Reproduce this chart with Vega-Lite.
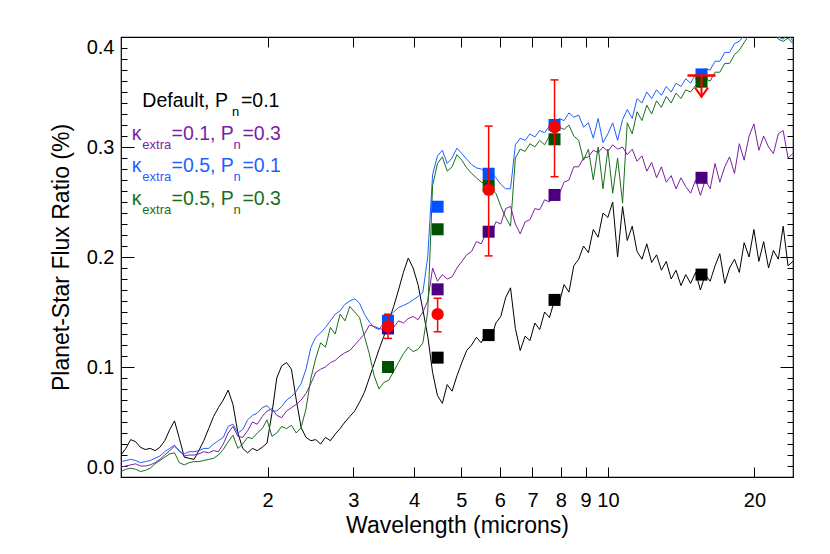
{
"$schema": "https://vega.github.io/schema/vega-lite/v6.json",
"width": 672,
"height": 440,
"autosize": {"type": "none"},
"padding": {"left": 121, "top": 37, "right": 37, "bottom": 77},
"background": "white",
"config": {
  "view": {"stroke": "black", "strokeWidth": 1.2},
  "font": "Liberation Sans",
  "axis": {"domain": false, "grid": false, "tickColor": "black", "tickWidth": 1, "labelColor": "black", "titleColor": "black", "labelFont": "Liberation Sans", "titleFont": "Liberation Sans", "labelFontSize": 20, "titleFontSize": 23, "titleFontWeight": "normal"}
},
"resolve": {"axis": {"x": "independent", "y": "independent"}, "scale": {"color": "independent"}},
"datasets": {
"black": [
{"wl":1.000,"flux":0.020},{"wl":1.023,"flux":0.026},{"wl":1.047,"flux":0.034},{"wl":1.072,"flux":0.032},{"wl":1.096,"flux":0.027},{"wl":1.122,"flux":0.025},{"wl":1.148,"flux":0.026},{"wl":1.175,"flux":0.024},{"wl":1.202,"flux":0.027},{"wl":1.230,"flux":0.033},
{"wl":1.259,"flux":0.043},{"wl":1.288,"flux":0.051},{"wl":1.318,"flux":0.035},{"wl":1.349,"flux":0.018},{"wl":1.380,"flux":0.017},{"wl":1.413,"flux":0.016},{"wl":1.445,"flux":0.024},{"wl":1.479,"flux":0.033},{"wl":1.514,"flux":0.044},{"wl":1.549,"flux":0.055},
{"wl":1.585,"flux":0.063},{"wl":1.622,"flux":0.070},{"wl":1.660,"flux":0.079},{"wl":1.698,"flux":0.066},{"wl":1.738,"flux":0.040},{"wl":1.778,"flux":0.026},{"wl":1.820,"flux":0.022},{"wl":1.862,"flux":0.026},{"wl":1.905,"flux":0.024},{"wl":1.950,"flux":0.027},
{"wl":1.995,"flux":0.031},{"wl":2.042,"flux":0.058},{"wl":2.089,"flux":0.090},{"wl":2.138,"flux":0.101},{"wl":2.188,"flux":0.104},{"wl":2.239,"flux":0.098},{"wl":2.291,"flux":0.070},{"wl":2.344,"flux":0.045},{"wl":2.399,"flux":0.036},{"wl":2.455,"flux":0.033},
{"wl":2.512,"flux":0.034},{"wl":2.570,"flux":0.030},{"wl":2.630,"flux":0.036},{"wl":2.692,"flux":0.033},{"wl":2.754,"flux":0.039},{"wl":2.818,"flux":0.044},{"wl":2.884,"flux":0.050},{"wl":2.951,"flux":0.055},{"wl":3.020,"flux":0.060},{"wl":3.090,"flux":0.068},
{"wl":3.162,"flux":0.077},{"wl":3.236,"flux":0.090},{"wl":3.311,"flux":0.103},{"wl":3.388,"flux":0.116},{"wl":3.467,"flux":0.128},{"wl":3.548,"flux":0.142},{"wl":3.631,"flux":0.155},{"wl":3.715,"flux":0.170},{"wl":3.802,"flux":0.186},{"wl":3.890,"flux":0.199},
{"wl":3.981,"flux":0.190},{"wl":4.074,"flux":0.175},{"wl":4.169,"flux":0.152},{"wl":4.266,"flux":0.128},{"wl":4.365,"flux":0.095},{"wl":4.467,"flux":0.074},{"wl":4.571,"flux":0.067},{"wl":4.677,"flux":0.084},{"wl":4.786,"flux":0.078},{"wl":4.898,"flux":0.092},
{"wl":5.012,"flux":0.104},{"wl":5.129,"flux":0.115},{"wl":5.248,"flux":0.120},{"wl":5.370,"flux":0.127},{"wl":5.495,"flux":0.122},{"wl":5.623,"flux":0.131},{"wl":5.754,"flux":0.126},{"wl":5.888,"flux":0.140},{"wl":6.026,"flux":0.146},{"wl":6.166,"flux":0.163},
{"wl":6.310,"flux":0.172},{"wl":6.457,"flux":0.135},{"wl":6.607,"flux":0.115},{"wl":6.761,"flux":0.128},{"wl":6.918,"flux":0.124},{"wl":7.079,"flux":0.140},{"wl":7.244,"flux":0.134},{"wl":7.413,"flux":0.150},{"wl":7.586,"flux":0.145},{"wl":7.762,"flux":0.160},
{"wl":7.943,"flux":0.158},{"wl":8.128,"flux":0.175},{"wl":8.318,"flux":0.168},{"wl":8.511,"flux":0.192},{"wl":8.710,"flux":0.198},{"wl":8.913,"flux":0.210},{"wl":9.120,"flux":0.204},{"wl":9.333,"flux":0.225},{"wl":9.550,"flux":0.218},{"wl":9.772,"flux":0.240},
{"wl":10.00,"flux":0.236},{"wl":10.23,"flux":0.250},{"wl":10.47,"flux":0.200},{"wl":10.72,"flux":0.246},{"wl":10.96,"flux":0.215},{"wl":11.22,"flux":0.228},{"wl":11.48,"flux":0.205},{"wl":11.75,"flux":0.198},{"wl":12.02,"flux":0.212},{"wl":12.30,"flux":0.195},
{"wl":12.59,"flux":0.202},{"wl":12.88,"flux":0.188},{"wl":13.18,"flux":0.196},{"wl":13.49,"flux":0.180},{"wl":13.80,"flux":0.188},{"wl":14.13,"flux":0.174},{"wl":14.45,"flux":0.184},{"wl":14.79,"flux":0.176},{"wl":15.14,"flux":0.186},{"wl":15.49,"flux":0.170},
{"wl":15.85,"flux":0.184},{"wl":16.22,"flux":0.178},{"wl":16.60,"flux":0.192},{"wl":16.98,"flux":0.203},{"wl":17.38,"flux":0.176},{"wl":17.78,"flux":0.190},{"wl":18.20,"flux":0.198},{"wl":18.62,"flux":0.186},{"wl":19.05,"flux":0.213},{"wl":19.50,"flux":0.200},
{"wl":19.95,"flux":0.225},{"wl":20.42,"flux":0.196},{"wl":20.89,"flux":0.214},{"wl":21.38,"flux":0.190},{"wl":21.88,"flux":0.206},{"wl":22.39,"flux":0.198},{"wl":22.91,"flux":0.228},{"wl":23.44,"flux":0.192},{"wl":23.99,"flux":0.196}
],
"purple": [
{"wl":1.000,"flux":0.009},{"wl":1.023,"flux":0.010},{"wl":1.047,"flux":0.011},{"wl":1.072,"flux":0.012},{"wl":1.096,"flux":0.010},{"wl":1.122,"flux":0.010},{"wl":1.148,"flux":0.011},{"wl":1.175,"flux":0.013},{"wl":1.202,"flux":0.016},{"wl":1.230,"flux":0.020},
{"wl":1.259,"flux":0.024},{"wl":1.288,"flux":0.028},{"wl":1.318,"flux":0.024},{"wl":1.349,"flux":0.019},{"wl":1.380,"flux":0.020},{"wl":1.413,"flux":0.020},{"wl":1.445,"flux":0.021},{"wl":1.479,"flux":0.023},{"wl":1.514,"flux":0.022},{"wl":1.549,"flux":0.024},
{"wl":1.585,"flux":0.023},{"wl":1.622,"flux":0.030},{"wl":1.660,"flux":0.040},{"wl":1.698,"flux":0.046},{"wl":1.738,"flux":0.037},{"wl":1.778,"flux":0.036},{"wl":1.820,"flux":0.042},{"wl":1.862,"flux":0.050},{"wl":1.905,"flux":0.048},{"wl":1.950,"flux":0.055},
{"wl":1.995,"flux":0.060},{"wl":2.042,"flux":0.062},{"wl":2.089,"flux":0.056},{"wl":2.138,"flux":0.054},{"wl":2.188,"flux":0.060},{"wl":2.239,"flux":0.063},{"wl":2.291,"flux":0.066},{"wl":2.344,"flux":0.070},{"wl":2.399,"flux":0.076},{"wl":2.455,"flux":0.085},
{"wl":2.512,"flux":0.095},{"wl":2.570,"flux":0.098},{"wl":2.630,"flux":0.100},{"wl":2.692,"flux":0.104},{"wl":2.754,"flux":0.106},{"wl":2.818,"flux":0.110},{"wl":2.884,"flux":0.113},{"wl":2.951,"flux":0.115},{"wl":3.020,"flux":0.120},{"wl":3.090,"flux":0.125},
{"wl":3.162,"flux":0.130},{"wl":3.236,"flux":0.138},{"wl":3.311,"flux":0.137},{"wl":3.388,"flux":0.135},{"wl":3.467,"flux":0.134},{"wl":3.548,"flux":0.138},{"wl":3.631,"flux":0.136},{"wl":3.715,"flux":0.142},{"wl":3.802,"flux":0.140},{"wl":3.890,"flux":0.144},
{"wl":3.981,"flux":0.146},{"wl":4.074,"flux":0.143},{"wl":4.169,"flux":0.150},{"wl":4.266,"flux":0.160},{"wl":4.365,"flux":0.190},{"wl":4.467,"flux":0.178},{"wl":4.571,"flux":0.184},{"wl":4.677,"flux":0.180},{"wl":4.786,"flux":0.182},{"wl":4.898,"flux":0.190},
{"wl":5.012,"flux":0.196},{"wl":5.129,"flux":0.202},{"wl":5.248,"flux":0.205},{"wl":5.370,"flux":0.214},{"wl":5.495,"flux":0.212},{"wl":5.623,"flux":0.222},{"wl":5.754,"flux":0.220},{"wl":5.888,"flux":0.232},{"wl":6.026,"flux":0.230},{"wl":6.166,"flux":0.244},
{"wl":6.310,"flux":0.246},{"wl":6.457,"flux":0.230},{"wl":6.607,"flux":0.221},{"wl":6.761,"flux":0.232},{"wl":6.918,"flux":0.234},{"wl":7.079,"flux":0.244},{"wl":7.244,"flux":0.243},{"wl":7.413,"flux":0.252},{"wl":7.586,"flux":0.250},{"wl":7.762,"flux":0.258},
{"wl":7.943,"flux":0.257},{"wl":8.128,"flux":0.268},{"wl":8.318,"flux":0.270},{"wl":8.511,"flux":0.282},{"wl":8.710,"flux":0.282},{"wl":8.913,"flux":0.290},{"wl":9.120,"flux":0.291},{"wl":9.333,"flux":0.297},{"wl":9.550,"flux":0.295},{"wl":9.772,"flux":0.300},
{"wl":10.00,"flux":0.296},{"wl":10.23,"flux":0.302},{"wl":10.47,"flux":0.298},{"wl":10.72,"flux":0.300},{"wl":10.96,"flux":0.293},{"wl":11.22,"flux":0.298},{"wl":11.48,"flux":0.287},{"wl":11.75,"flux":0.292},{"wl":12.02,"flux":0.278},{"wl":12.30,"flux":0.286},
{"wl":12.59,"flux":0.272},{"wl":12.88,"flux":0.282},{"wl":13.18,"flux":0.268},{"wl":13.49,"flux":0.274},{"wl":13.80,"flux":0.262},{"wl":14.13,"flux":0.272},{"wl":14.45,"flux":0.264},{"wl":14.79,"flux":0.258},{"wl":15.14,"flux":0.270},{"wl":15.49,"flux":0.256},
{"wl":15.85,"flux":0.270},{"wl":16.22,"flux":0.262},{"wl":16.60,"flux":0.285},{"wl":16.98,"flux":0.268},{"wl":17.38,"flux":0.282},{"wl":17.78,"flux":0.291},{"wl":18.20,"flux":0.276},{"wl":18.62,"flux":0.303},{"wl":19.05,"flux":0.288},{"wl":19.50,"flux":0.310},
{"wl":19.95,"flux":0.321},{"wl":20.42,"flux":0.297},{"wl":20.89,"flux":0.310},{"wl":21.38,"flux":0.300},{"wl":21.88,"flux":0.294},{"wl":22.39,"flux":0.312},{"wl":22.91,"flux":0.315},{"wl":23.44,"flux":0.290},{"wl":23.99,"flux":0.294}
],
"blue": [
{"wl":1.000,"flux":0.014},{"wl":1.023,"flux":0.015},{"wl":1.047,"flux":0.016},{"wl":1.072,"flux":0.015},{"wl":1.096,"flux":0.013},{"wl":1.122,"flux":0.014},{"wl":1.148,"flux":0.015},{"wl":1.175,"flux":0.017},{"wl":1.202,"flux":0.019},{"wl":1.230,"flux":0.023},
{"wl":1.259,"flux":0.026},{"wl":1.288,"flux":0.029},{"wl":1.318,"flux":0.023},{"wl":1.349,"flux":0.021},{"wl":1.380,"flux":0.023},{"wl":1.413,"flux":0.023},{"wl":1.445,"flux":0.024},{"wl":1.479,"flux":0.026},{"wl":1.514,"flux":0.026},{"wl":1.549,"flux":0.030},
{"wl":1.585,"flux":0.033},{"wl":1.622,"flux":0.036},{"wl":1.660,"flux":0.046},{"wl":1.698,"flux":0.048},{"wl":1.738,"flux":0.040},{"wl":1.778,"flux":0.043},{"wl":1.820,"flux":0.052},{"wl":1.862,"flux":0.056},{"wl":1.905,"flux":0.058},{"wl":1.950,"flux":0.063},
{"wl":1.995,"flux":0.065},{"wl":2.042,"flux":0.060},{"wl":2.089,"flux":0.060},{"wl":2.138,"flux":0.064},{"wl":2.188,"flux":0.070},{"wl":2.239,"flux":0.073},{"wl":2.291,"flux":0.078},{"wl":2.344,"flux":0.085},{"wl":2.399,"flux":0.098},{"wl":2.455,"flux":0.118},
{"wl":2.512,"flux":0.127},{"wl":2.570,"flux":0.131},{"wl":2.630,"flux":0.136},{"wl":2.692,"flux":0.142},{"wl":2.754,"flux":0.148},{"wl":2.818,"flux":0.151},{"wl":2.884,"flux":0.157},{"wl":2.951,"flux":0.160},{"wl":3.020,"flux":0.162},{"wl":3.090,"flux":0.158},
{"wl":3.162,"flux":0.148},{"wl":3.236,"flux":0.141},{"wl":3.311,"flux":0.136},{"wl":3.388,"flux":0.134},{"wl":3.467,"flux":0.140},{"wl":3.548,"flux":0.146},{"wl":3.631,"flux":0.150},{"wl":3.715,"flux":0.154},{"wl":3.802,"flux":0.156},{"wl":3.890,"flux":0.158},
{"wl":3.981,"flux":0.161},{"wl":4.074,"flux":0.164},{"wl":4.169,"flux":0.168},{"wl":4.266,"flux":0.200},{"wl":4.365,"flux":0.275},{"wl":4.467,"flux":0.292},{"wl":4.571,"flux":0.297},{"wl":4.677,"flux":0.285},{"wl":4.786,"flux":0.290},{"wl":4.898,"flux":0.299},
{"wl":5.012,"flux":0.294},{"wl":5.129,"flux":0.289},{"wl":5.248,"flux":0.284},{"wl":5.370,"flux":0.281},{"wl":5.495,"flux":0.280},{"wl":5.623,"flux":0.277},{"wl":5.754,"flux":0.278},{"wl":5.888,"flux":0.272},{"wl":6.026,"flux":0.266},{"wl":6.166,"flux":0.262},
{"wl":6.310,"flux":0.262},{"wl":6.457,"flux":0.302},{"wl":6.607,"flux":0.308},{"wl":6.761,"flux":0.306},{"wl":6.918,"flux":0.312},{"wl":7.079,"flux":0.309},{"wl":7.244,"flux":0.315},{"wl":7.413,"flux":0.313},{"wl":7.586,"flux":0.319},{"wl":7.762,"flux":0.318},
{"wl":7.943,"flux":0.326},{"wl":8.128,"flux":0.324},{"wl":8.318,"flux":0.331},{"wl":8.511,"flux":0.327},{"wl":8.710,"flux":0.329},{"wl":8.913,"flux":0.318},{"wl":9.120,"flux":0.322},{"wl":9.333,"flux":0.308},{"wl":9.550,"flux":0.326},{"wl":9.772,"flux":0.304},
{"wl":10.00,"flux":0.312},{"wl":10.23,"flux":0.322},{"wl":10.47,"flux":0.306},{"wl":10.72,"flux":0.325},{"wl":10.96,"flux":0.334},{"wl":11.22,"flux":0.326},{"wl":11.48,"flux":0.344},{"wl":11.75,"flux":0.340},{"wl":12.02,"flux":0.350},{"wl":12.30,"flux":0.344},
{"wl":12.59,"flux":0.352},{"wl":12.88,"flux":0.347},{"wl":13.18,"flux":0.355},{"wl":13.49,"flux":0.350},{"wl":13.80,"flux":0.358},{"wl":14.13,"flux":0.355},{"wl":14.45,"flux":0.362},{"wl":14.79,"flux":0.358},{"wl":15.14,"flux":0.366},{"wl":15.49,"flux":0.364},
{"wl":15.85,"flux":0.371},{"wl":16.22,"flux":0.370},{"wl":16.60,"flux":0.378},{"wl":16.98,"flux":0.378},{"wl":17.38,"flux":0.386},{"wl":17.78,"flux":0.386},{"wl":18.20,"flux":0.394},{"wl":18.62,"flux":0.396},{"wl":19.05,"flux":0.402},{"wl":19.50,"flux":0.406},
{"wl":19.95,"flux":0.410},{"wl":20.42,"flux":0.412},{"wl":20.89,"flux":0.414},{"wl":21.38,"flux":0.410},{"wl":21.88,"flux":0.408},{"wl":22.39,"flux":0.400},{"wl":22.91,"flux":0.398},{"wl":23.44,"flux":0.403},{"wl":23.99,"flux":0.396}
],
"green": [
{"wl":1.000,"flux":0.005},{"wl":1.023,"flux":0.007},{"wl":1.047,"flux":0.008},{"wl":1.072,"flux":0.007},{"wl":1.096,"flux":0.005},{"wl":1.122,"flux":0.006},{"wl":1.148,"flux":0.008},{"wl":1.175,"flux":0.012},{"wl":1.202,"flux":0.015},{"wl":1.230,"flux":0.018},
{"wl":1.259,"flux":0.021},{"wl":1.288,"flux":0.022},{"wl":1.318,"flux":0.013},{"wl":1.349,"flux":0.011},{"wl":1.380,"flux":0.013},{"wl":1.413,"flux":0.014},{"wl":1.445,"flux":0.014},{"wl":1.479,"flux":0.015},{"wl":1.514,"flux":0.016},{"wl":1.549,"flux":0.017},
{"wl":1.585,"flux":0.020},{"wl":1.622,"flux":0.025},{"wl":1.660,"flux":0.032},{"wl":1.698,"flux":0.038},{"wl":1.738,"flux":0.026},{"wl":1.778,"flux":0.030},{"wl":1.820,"flux":0.036},{"wl":1.862,"flux":0.035},{"wl":1.905,"flux":0.040},{"wl":1.950,"flux":0.044},
{"wl":1.995,"flux":0.052},{"wl":2.042,"flux":0.037},{"wl":2.089,"flux":0.040},{"wl":2.138,"flux":0.046},{"wl":2.188,"flux":0.044},{"wl":2.239,"flux":0.047},{"wl":2.291,"flux":0.040},{"wl":2.344,"flux":0.045},{"wl":2.399,"flux":0.062},{"wl":2.455,"flux":0.090},
{"wl":2.512,"flux":0.108},{"wl":2.570,"flux":0.122},{"wl":2.630,"flux":0.118},{"wl":2.692,"flux":0.136},{"wl":2.754,"flux":0.130},{"wl":2.818,"flux":0.148},{"wl":2.884,"flux":0.142},{"wl":2.951,"flux":0.155},{"wl":3.020,"flux":0.150},{"wl":3.090,"flux":0.145},
{"wl":3.162,"flux":0.128},{"wl":3.236,"flux":0.112},{"wl":3.311,"flux":0.092},{"wl":3.388,"flux":0.080},{"wl":3.467,"flux":0.086},{"wl":3.548,"flux":0.088},{"wl":3.631,"flux":0.096},{"wl":3.715,"flux":0.104},{"wl":3.802,"flux":0.112},{"wl":3.890,"flux":0.118},
{"wl":3.981,"flux":0.114},{"wl":4.074,"flux":0.116},{"wl":4.169,"flux":0.122},{"wl":4.266,"flux":0.150},{"wl":4.365,"flux":0.265},{"wl":4.467,"flux":0.285},{"wl":4.571,"flux":0.291},{"wl":4.677,"flux":0.278},{"wl":4.786,"flux":0.282},{"wl":4.898,"flux":0.293},
{"wl":5.012,"flux":0.288},{"wl":5.129,"flux":0.281},{"wl":5.248,"flux":0.276},{"wl":5.370,"flux":0.272},{"wl":5.495,"flux":0.268},{"wl":5.623,"flux":0.266},{"wl":5.754,"flux":0.262},{"wl":5.888,"flux":0.258},{"wl":6.026,"flux":0.246},{"wl":6.166,"flux":0.236},
{"wl":6.310,"flux":0.228},{"wl":6.457,"flux":0.290},{"wl":6.607,"flux":0.298},{"wl":6.761,"flux":0.296},{"wl":6.918,"flux":0.303},{"wl":7.079,"flux":0.300},{"wl":7.244,"flux":0.306},{"wl":7.413,"flux":0.302},{"wl":7.586,"flux":0.310},{"wl":7.762,"flux":0.308},
{"wl":7.943,"flux":0.318},{"wl":8.128,"flux":0.316},{"wl":8.318,"flux":0.320},{"wl":8.511,"flux":0.310},{"wl":8.710,"flux":0.306},{"wl":8.913,"flux":0.288},{"wl":9.120,"flux":0.298},{"wl":9.333,"flux":0.270},{"wl":9.550,"flux":0.300},{"wl":9.772,"flux":0.262},
{"wl":10.00,"flux":0.298},{"wl":10.23,"flux":0.258},{"wl":10.47,"flux":0.290},{"wl":10.72,"flux":0.249},{"wl":10.96,"flux":0.322},{"wl":11.22,"flux":0.312},{"wl":11.48,"flux":0.332},{"wl":11.75,"flux":0.324},{"wl":12.02,"flux":0.338},{"wl":12.30,"flux":0.330},
{"wl":12.59,"flux":0.342},{"wl":12.88,"flux":0.336},{"wl":13.18,"flux":0.346},{"wl":13.49,"flux":0.340},{"wl":13.80,"flux":0.349},{"wl":14.13,"flux":0.344},{"wl":14.45,"flux":0.352},{"wl":14.79,"flux":0.350},{"wl":15.14,"flux":0.356},{"wl":15.49,"flux":0.354},
{"wl":15.85,"flux":0.362},{"wl":16.22,"flux":0.360},{"wl":16.60,"flux":0.368},{"wl":16.98,"flux":0.368},{"wl":17.38,"flux":0.376},{"wl":17.78,"flux":0.376},{"wl":18.20,"flux":0.384},{"wl":18.62,"flux":0.388},{"wl":19.05,"flux":0.395},{"wl":19.50,"flux":0.402},
{"wl":19.95,"flux":0.407},{"wl":20.42,"flux":0.410},{"wl":20.89,"flux":0.412},{"wl":21.38,"flux":0.408},{"wl":21.88,"flux":0.405},{"wl":22.39,"flux":0.398},{"wl":22.91,"flux":0.396},{"wl":23.44,"flux":0.399},{"wl":23.99,"flux":0.394}
],
"bands": [
{"model":"Default, Pn=0.1","wl":4.47,"flux":0.1085},
{"model":"Default, Pn=0.1","wl":5.69,"flux":0.129},
{"model":"Default, Pn=0.1","wl":7.77,"flux":0.161},
{"model":"Default, Pn=0.1","wl":15.57,"flux":0.184},
{"model":"κextra=0.1, Pn=0.3","wl":3.535,"flux":0.135},
{"model":"κextra=0.1, Pn=0.3","wl":4.47,"flux":0.1706},
{"model":"κextra=0.1, Pn=0.3","wl":5.69,"flux":0.223},
{"model":"κextra=0.1, Pn=0.3","wl":7.77,"flux":0.2564},
{"model":"κextra=0.1, Pn=0.3","wl":15.57,"flux":0.272},
{"model":"κextra=0.5, Pn=0.1","wl":3.535,"flux":0.142},
{"model":"κextra=0.5, Pn=0.1","wl":4.47,"flux":0.2457},
{"model":"κextra=0.5, Pn=0.1","wl":5.69,"flux":0.2757},
{"model":"κextra=0.5, Pn=0.1","wl":7.77,"flux":0.320},
{"model":"κextra=0.5, Pn=0.1","wl":15.57,"flux":0.366},
{"model":"κextra=0.5, Pn=0.3","wl":3.535,"flux":0.100},
{"model":"κextra=0.5, Pn=0.3","wl":4.47,"flux":0.2252},
{"model":"κextra=0.5, Pn=0.3","wl":5.69,"flux":0.265},
{"model":"κextra=0.5, Pn=0.3","wl":7.77,"flux":0.307},
{"model":"κextra=0.5, Pn=0.3","wl":15.57,"flux":0.3594}
],
"obs": [
{"wl":3.535,"flux":0.137,"lo":0.126,"hi":0.148},
{"wl":4.47,"flux":0.148,"lo":0.132,"hi":0.1625},
{"wl":5.69,"flux":0.261,"lo":0.201,"hi":0.319},
{"wl":7.77,"flux":0.318,"lo":0.273,"hi":0.361}
],
"limit": [
{"wl":15.57,"flux":0.365,"tip":0.3457}
],
"labels": [
{"model":"Default, Pn=0.1","kind":"main","t":"Default, P","wl":1.106,"flux":0.3361},
{"model":"Default, Pn=0.1","kind":"sub","t":"n","wl":1.690,"flux":0.3279},
{"model":"Default, Pn=0.1","kind":"main","t":"=0.1","wl":1.763,"flux":0.3361},
{"model":"κextra=0.1, Pn=0.3","kind":"main","t":"κ","wl":1.052,"flux":0.3064},
{"model":"κextra=0.1, Pn=0.3","kind":"sub","t":"extra","wl":1.106,"flux":0.2982},
{"model":"κextra=0.1, Pn=0.3","kind":"main","t":"=0.1, P","wl":1.270,"flux":0.3064},
{"model":"κextra=0.1, Pn=0.3","kind":"sub","t":"n","wl":1.702,"flux":0.2982},
{"model":"κextra=0.1, Pn=0.3","kind":"main","t":"=0.3","wl":1.776,"flux":0.3064},
{"model":"κextra=0.5, Pn=0.1","kind":"main","t":"κ","wl":1.052,"flux":0.2770},
{"model":"κextra=0.5, Pn=0.1","kind":"sub","t":"extra","wl":1.106,"flux":0.2688},
{"model":"κextra=0.5, Pn=0.1","kind":"main","t":"=0.5, P","wl":1.270,"flux":0.2770},
{"model":"κextra=0.5, Pn=0.1","kind":"sub","t":"n","wl":1.702,"flux":0.2688},
{"model":"κextra=0.5, Pn=0.1","kind":"main","t":"=0.1","wl":1.776,"flux":0.2770},
{"model":"κextra=0.5, Pn=0.3","kind":"main","t":"κ","wl":1.052,"flux":0.2473},
{"model":"κextra=0.5, Pn=0.3","kind":"sub","t":"extra","wl":1.106,"flux":0.2391},
{"model":"κextra=0.5, Pn=0.3","kind":"main","t":"=0.5, P","wl":1.270,"flux":0.2473},
{"model":"κextra=0.5, Pn=0.3","kind":"sub","t":"n","wl":1.702,"flux":0.2391},
{"model":"κextra=0.5, Pn=0.3","kind":"main","t":"=0.3","wl":1.776,"flux":0.2473}
]
},
"layer": [
{
  "data": {"name": "black"},
  "mark": {"type": "line", "color": "#000000", "strokeWidth": 1, "clip": true},
  "encoding": {
    "x": {"field": "wl", "type": "quantitative", "scale": {"type": "log", "domain": [1, 24], "nice": false},
      "axis": {"orient": "bottom", "values": [2,3,4,5,6,7,8,9,10,20], "format": "d", "tickSize": -10, "labelPadding": 23, "labelOverlap": false, "labelBound": false, "labelFlush": false, "title": "Wavelength (microns)", "titleY": 55, "titleBaseline": "alphabetic"}},
    "y": {"field": "flux", "type": "quantitative", "scale": {"domain": [0, 0.4], "nice": false, "zero": false},
      "axis": {"orient": "left", "values": [0, 0.1, 0.2, 0.3, 0.4], "format": ".1f", "tickSize": -13, "labelPadding": 20, "labelFlush": true, "title": "Planet-Star Flux Ratio (%)", "titleX": -53, "titleBaseline": "alphabetic"}}
  }
},
{
  "data": {"name": "purple"},
  "mark": {"type": "line", "color": "#7b1fa2", "strokeWidth": 1, "clip": true},
  "encoding": {
    "x": {"field": "wl", "type": "quantitative", "scale": {"type": "log", "domain": [1, 24], "nice": false},
      "axis": {"orient": "top", "values": [2,3,4,5,6,7,8,9,10,20], "tickSize": -10, "labels": false, "title": null}},
    "y": {"field": "flux", "type": "quantitative", "scale": {"domain": [0, 0.4], "nice": false, "zero": false},
      "axis": {"orient": "right", "values": [0, 0.1, 0.2, 0.3, 0.4], "tickSize": -13, "labels": false, "title": null}}
  }
},
{
  "data": {"name": "blue"},
  "mark": {"type": "line", "color": "#1f5fff", "strokeWidth": 1, "clip": true},
  "encoding": {
    "x": {"field": "wl", "type": "quantitative", "scale": {"type": "log", "domain": [1, 24], "nice": false}, "axis": null},
    "y": {"field": "flux", "type": "quantitative", "scale": {"domain": [0, 0.4], "nice": false, "zero": false},
      "axis": {"orient": "left", "values": [0.01,0.02,0.03,0.04,0.05,0.06,0.07,0.08,0.09,0.11,0.12,0.13,0.14,0.15,0.16,0.17,0.18,0.19,0.21,0.22,0.23,0.24,0.25,0.26,0.27,0.28,0.29,0.31,0.32,0.33,0.34,0.35,0.36,0.37,0.38,0.39], "tickSize": -6, "labels": false, "title": null}}
  }
},
{
  "data": {"name": "green"},
  "mark": {"type": "line", "color": "#1a6e1a", "strokeWidth": 1, "clip": true},
  "encoding": {
    "x": {"field": "wl", "type": "quantitative", "scale": {"type": "log", "domain": [1, 24], "nice": false}, "axis": null},
    "y": {"field": "flux", "type": "quantitative", "scale": {"domain": [0, 0.4], "nice": false, "zero": false},
      "axis": {"orient": "right", "values": [0.01,0.02,0.03,0.04,0.05,0.06,0.07,0.08,0.09,0.11,0.12,0.13,0.14,0.15,0.16,0.17,0.18,0.19,0.21,0.22,0.23,0.24,0.25,0.26,0.27,0.28,0.29,0.31,0.32,0.33,0.34,0.35,0.36,0.37,0.38,0.39], "tickSize": -6, "labels": false, "title": null}}
  }
},
{
  "data": {"name": "bands"},
  "mark": {"type": "point", "shape": "square", "filled": true, "size": 144, "opacity": 1, "strokeWidth": 0},
  "encoding": {
    "x": {"field": "wl", "type": "quantitative", "scale": {"type": "log", "domain": [1, 24], "nice": false}, "axis": null},
    "y": {"field": "flux", "type": "quantitative", "scale": {"domain": [0, 0.4], "nice": false, "zero": false}, "axis": null},
    "color": {"field": "model", "type": "nominal", "legend": null,
      "scale": {"domain": ["Default, Pn=0.1", "κextra=0.1, Pn=0.3", "κextra=0.5, Pn=0.1", "κextra=0.5, Pn=0.3"], "range": ["#000000", "#4b0082", "#0050ff", "#005000"]}}
  }
},
{
  "data": {"name": "obs"},
  "mark": {"type": "rule", "color": "#ff0000", "strokeWidth": 1.5},
  "encoding": {
    "x": {"field": "wl", "type": "quantitative", "scale": {"type": "log", "domain": [1, 24], "nice": false}, "axis": null},
    "y": {"field": "lo", "type": "quantitative", "scale": {"domain": [0, 0.4], "nice": false, "zero": false}, "axis": null},
    "y2": {"field": "hi"}
  }
},
{
  "data": {"name": "obs"},
  "mark": {"type": "tick", "orient": "horizontal", "color": "#ff0000", "size": 8, "thickness": 1.5, "opacity": 1},
  "encoding": {
    "x": {"field": "wl", "type": "quantitative", "scale": {"type": "log", "domain": [1, 24], "nice": false}, "axis": null},
    "y": {"field": "lo", "type": "quantitative", "scale": {"domain": [0, 0.4], "nice": false, "zero": false}, "axis": null}
  }
},
{
  "data": {"name": "obs"},
  "mark": {"type": "tick", "orient": "horizontal", "color": "#ff0000", "size": 8, "thickness": 1.5, "opacity": 1},
  "encoding": {
    "x": {"field": "wl", "type": "quantitative", "scale": {"type": "log", "domain": [1, 24], "nice": false}, "axis": null},
    "y": {"field": "hi", "type": "quantitative", "scale": {"domain": [0, 0.4], "nice": false, "zero": false}, "axis": null}
  }
},
{
  "data": {"name": "obs"},
  "mark": {"type": "circle", "color": "#ff0000", "size": 150, "opacity": 1},
  "encoding": {
    "x": {"field": "wl", "type": "quantitative", "scale": {"type": "log", "domain": [1, 24], "nice": false}, "axis": null},
    "y": {"field": "flux", "type": "quantitative", "scale": {"domain": [0, 0.4], "nice": false, "zero": false}, "axis": null}
  }
},
{
  "data": {"name": "limit"},
  "mark": {"type": "tick", "orient": "horizontal", "color": "#ff0000", "size": 28, "thickness": 2.5, "opacity": 1},
  "encoding": {
    "x": {"field": "wl", "type": "quantitative", "scale": {"type": "log", "domain": [1, 24], "nice": false}, "axis": null},
    "y": {"field": "flux", "type": "quantitative", "scale": {"domain": [0, 0.4], "nice": false, "zero": false}, "axis": null}
  }
},
{
  "data": {"name": "limit"},
  "mark": {"type": "rule", "color": "#ff0000", "strokeWidth": 2},
  "encoding": {
    "x": {"field": "wl", "type": "quantitative", "scale": {"type": "log", "domain": [1, 24], "nice": false}, "axis": null},
    "y": {"field": "flux", "type": "quantitative", "scale": {"domain": [0, 0.4], "nice": false, "zero": false}, "axis": null},
    "y2": {"field": "tip"}
  }
},
{
  "data": {"name": "limit"},
  "mark": {"type": "point", "shape": "M-1,-1.4L0,0L1,-1.4", "filled": false, "color": "#ff0000", "strokeWidth": 2, "size": 169, "opacity": 1},
  "encoding": {
    "x": {"field": "wl", "type": "quantitative", "scale": {"type": "log", "domain": [1, 24], "nice": false}, "axis": null},
    "y": {"field": "tip", "type": "quantitative", "scale": {"domain": [0, 0.4], "nice": false, "zero": false}, "axis": null}
  }
},
{
  "data": {"name": "labels"},
  "transform": [{"filter": "datum.kind === 'main'"}],
  "mark": {"type": "text", "align": "left", "baseline": "alphabetic", "fontSize": 19.5, "font": "Liberation Sans"},
  "encoding": {
    "x": {"field": "wl", "type": "quantitative", "scale": {"type": "log", "domain": [1, 24], "nice": false}, "axis": null},
    "y": {"field": "flux", "type": "quantitative", "scale": {"domain": [0, 0.4], "nice": false, "zero": false}, "axis": null},
    "text": {"field": "t"},
    "color": {"field": "model", "type": "nominal", "legend": null,
      "scale": {"domain": ["Default, Pn=0.1", "κextra=0.1, Pn=0.3", "κextra=0.5, Pn=0.1", "κextra=0.5, Pn=0.3"], "range": ["#000000", "#7b1fa2", "#1f5fff", "#1a6e1a"]}}
  }
},
{
  "data": {"name": "labels"},
  "transform": [{"filter": "datum.kind === 'sub'"}],
  "mark": {"type": "text", "align": "left", "baseline": "alphabetic", "fontSize": 13, "font": "Liberation Sans"},
  "encoding": {
    "x": {"field": "wl", "type": "quantitative", "scale": {"type": "log", "domain": [1, 24], "nice": false}, "axis": null},
    "y": {"field": "flux", "type": "quantitative", "scale": {"domain": [0, 0.4], "nice": false, "zero": false}, "axis": null},
    "text": {"field": "t"},
    "color": {"field": "model", "type": "nominal", "legend": null,
      "scale": {"domain": ["Default, Pn=0.1", "κextra=0.1, Pn=0.3", "κextra=0.5, Pn=0.1", "κextra=0.5, Pn=0.3"], "range": ["#000000", "#7b1fa2", "#1f5fff", "#1a6e1a"]}}
  }
}
]
}
